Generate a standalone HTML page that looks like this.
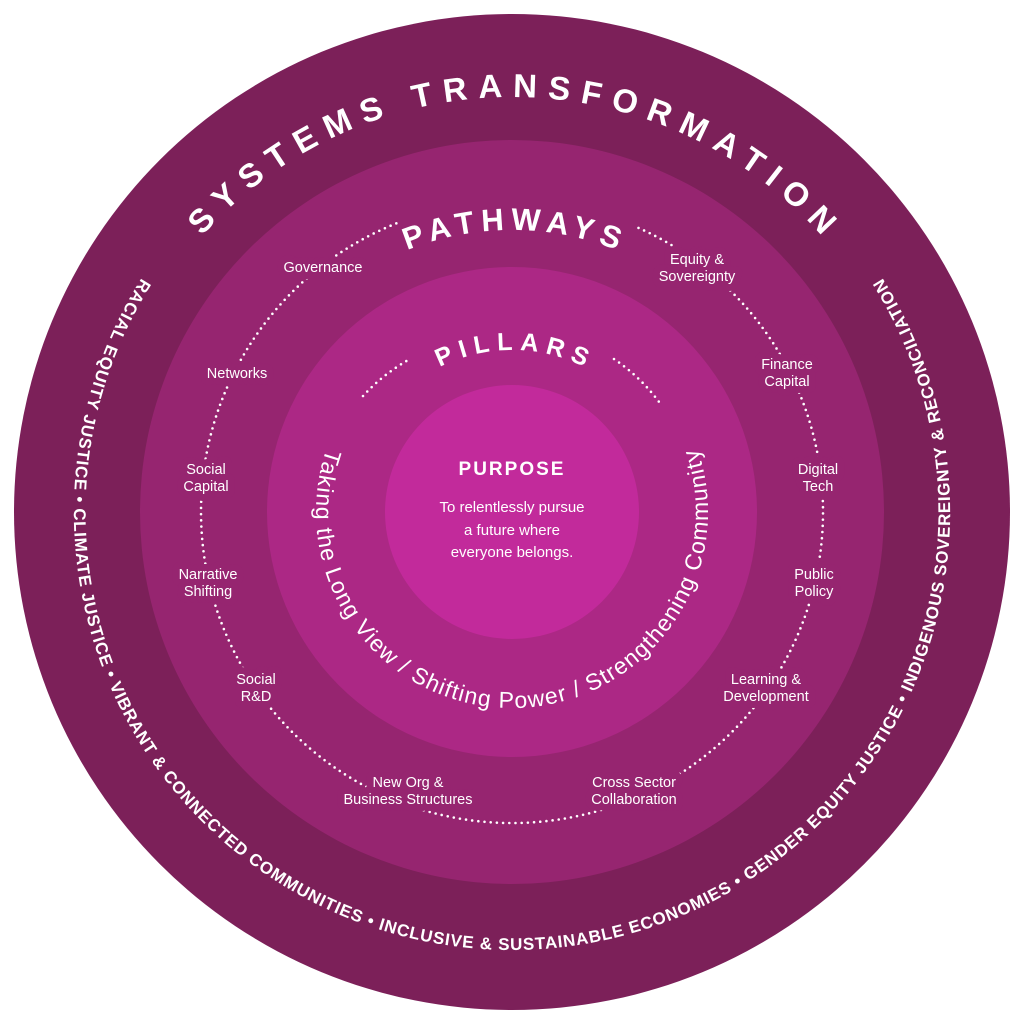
<!DOCTYPE html>
<html><head><meta charset="utf-8"><style>
html,body{margin:0;padding:0;background:#fff;}
svg{display:block;}
text{font-family:"Liberation Sans",sans-serif;fill:#fff;}
</style></head><body>
<svg width="1024" height="1024" viewBox="0 0 1024 1024">
<defs>
<path id="topP" d="M512 927 A415 415 0 1 1 512 97 A415 415 0 1 1 512 927"/>
<path id="botP" d="M512 74 A438 438 0 1 0 512 950 A438 438 0 1 0 512 74"/>
<path id="pathwP" d="M512 794 A282 282 0 1 1 512 230 A282 282 0 1 1 512 794"/>
<path id="pillP" d="M512 674 A162 162 0 1 1 512 350 A162 162 0 1 1 512 674"/>
<path id="pillB" d="M512 316 A196 196 0 1 0 512 708 A196 196 0 1 0 512 316"/>
<g id="labels">
<text x="323" y="272">Governance</text>
<text x="697" y="264">Equity &amp;</text><text x="697" y="281">Sovereignty</text>
<text x="237" y="378">Networks</text>
<text x="787" y="369">Finance</text><text x="787" y="386">Capital</text>
<text x="206" y="474">Social</text><text x="206" y="491">Capital</text>
<text x="818" y="474">Digital</text><text x="818" y="491">Tech</text>
<text x="208" y="579">Narrative</text><text x="208" y="596">Shifting</text>
<text x="814" y="579">Public</text><text x="814" y="596">Policy</text>
<text x="256" y="684">Social</text><text x="256" y="701">R&amp;D</text>
<text x="766" y="684">Learning &amp;</text><text x="766" y="701">Development</text>
<text x="408" y="787">New Org &amp;</text><text x="408" y="804">Business Structures</text>
<text x="634" y="787">Cross Sector</text><text x="634" y="804">Collaboration</text>
</g>
</defs>
<circle cx="512" cy="512" r="498" fill="#7c2059"/>
<circle cx="512" cy="512" r="372" fill="#962570"/>
<circle cx="512" cy="512" r="245" fill="#ac2885"/>
<circle cx="512" cy="512" r="127" fill="#c22a9b"/>

<path d="M638.5 227.9 A311 311 0 1 1 400.5 221.7" fill="none" stroke="#fff" stroke-width="2.6" stroke-linecap="round" stroke-dasharray="0 6.2"/>
<path d="M363 396 A184 184 0 0 1 410 359" fill="none" stroke="#fff" stroke-width="2.6" stroke-linecap="round" stroke-dasharray="0 6.2"/>
<path d="M614 359 A184 184 0 0 1 662 406" fill="none" stroke="#fff" stroke-width="2.6" stroke-linecap="round" stroke-dasharray="0 6.2"/>

<text font-size="33" font-weight="bold"><textPath href="#topP" startOffset="50%" text-anchor="middle" textLength="700" lengthAdjust="spacing">SYSTEMS TRANSFORMATION</textPath></text>

<text font-size="17" font-weight="bold"><textPath href="#botP" startOffset="50%" text-anchor="middle" textLength="1870" lengthAdjust="spacing">RACIAL EQUITY JUSTICE • CLIMATE JUSTICE • VIBRANT &amp; CONNECTED COMMUNITIES • INCLUSIVE &amp; SUSTAINABLE ECONOMIES • GENDER EQUITY JUSTICE • INDIGENOUS SOVEREIGNTY &amp; RECONCILIATION</textPath></text>

<text font-size="31" font-weight="bold"><textPath href="#pathwP" startOffset="50%" text-anchor="middle" textLength="215" lengthAdjust="spacing">PATHWAYS</textPath></text>

<text font-size="25" font-weight="bold"><textPath href="#pillP" startOffset="50%" text-anchor="middle" textLength="150" lengthAdjust="spacing">PILLARS</textPath></text>

<text font-size="23"><textPath href="#pillB" startOffset="50%" text-anchor="middle" textLength="745" lengthAdjust="spacing">Taking the Long View / Shifting Power / Strengthening Community</textPath></text>

<g font-size="14.5" text-anchor="middle" stroke="#962570" stroke-width="14" stroke-linejoin="round" style="fill:#962570">
<use href="#labels"/>
</g>
<g font-size="14.5" text-anchor="middle">
<use href="#labels"/>
</g>

<text x="512" y="475" font-size="19" font-weight="bold" text-anchor="middle" letter-spacing="2">PURPOSE</text>
<g font-size="15" text-anchor="middle">
<text x="512" y="512">To relentlessly pursue</text>
<text x="512" y="535">a future where</text>
<text x="512" y="557">everyone belongs.</text>
</g>
</svg>
</body></html>
